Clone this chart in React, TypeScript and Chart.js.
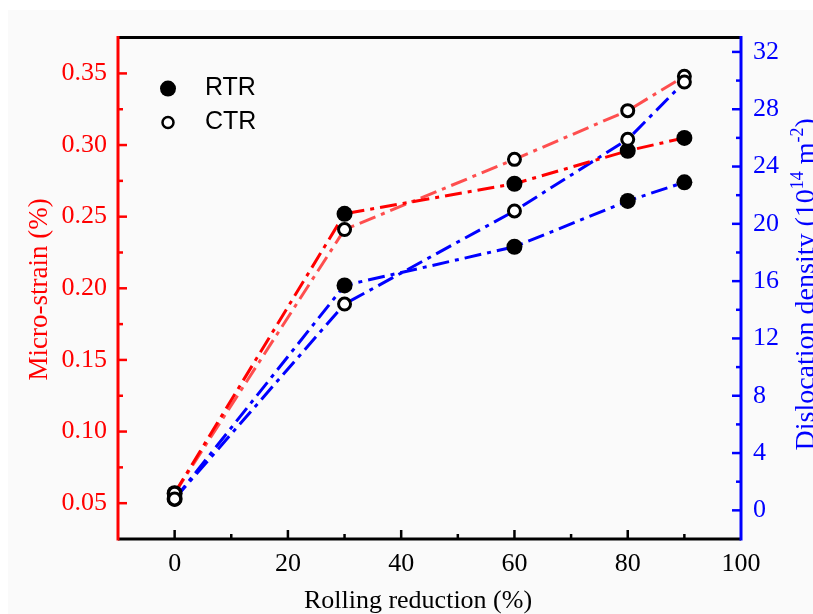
import React, { useEffect, useRef } from 'react';
import { Chart, registerables } from 'chart.js';

Chart.register(...registerables);

// ---- data ----
const reduction = [0, 30, 60, 80, 90];
const strainRTR = [0.057, 0.252, 0.273, 0.296, 0.305];
const strainCTR = [0.057, 0.241, 0.29, 0.324, 0.348];
const densityRTR = [0.8, 15.7, 18.4, 21.6, 22.9];
const densityCTR = [0.8, 14.4, 20.9, 25.9, 29.9];

const xTickLabels = [0, 20, 40, 60, 80, 100];
const strainTickLabels = [0.05, 0.1, 0.15, 0.2, 0.25, 0.3, 0.35];
const densityTickLabels = [0, 4, 8, 12, 16, 20, 24, 28, 32];

const legendLabels = ['RTR', 'CTR'];
const xTitle = 'Rolling reduction (%)';
const leftTitle = 'Micro-strain (%)';

const RED = '#ff0000';
const RED_LIGHT = 'rgba(255,40,40,0.82)';
const BLUE = '#0000ff';
const SERIF = '"Liberation Serif", "Times New Roman", serif';
const SANS = '"Liberation Sans", Arial, sans-serif';

const near = (arr: number[], v: number) => arr.some((a) => Math.abs(a - v) < 1e-7);
const pts = (ys: number[]) => reduction.map((x, i) => ({ x, y: ys[i] }));

const DASH = [17, 6, 4, 6];

const framePlugin = {
  id: 'frame',
  beforeDraw(chart: any) {
    const ctx = chart.ctx;
    ctx.save();
    ctx.fillStyle = '#fafafa';
    ctx.fillRect(0, 0, chart.width, chart.height);
    ctx.restore();
  },
  afterDraw(chart: any) {
    const { ctx, chartArea: a, scales } = chart;
    ctx.save();
    ctx.lineCap = 'butt';
    ctx.lineWidth = 2.5;
    // x ticks (inward)
    ctx.strokeStyle = '#000';
    for (const t of scales.x.ticks) {
      const v = t.value;
      if (Math.abs(v / 10 - Math.round(v / 10)) > 1e-7) continue;
      if (v <= scales.x.min || v >= scales.x.max) continue;
      const major = Math.round(v / 10) % 2 === 0;
      const len = major ? 9 : 5;
      const px = scales.x.getPixelForValue(v);
      ctx.beginPath();
      ctx.moveTo(px, a.bottom);
      ctx.lineTo(px, a.bottom - len);
      ctx.stroke();
    }
    // left ticks
    ctx.strokeStyle = RED;
    for (const t of scales.y.ticks) {
      const v = t.value;
      const k = Math.round(v / 0.025);
      if (Math.abs(v / 0.025 - k) > 1e-6) continue;
      if (v <= scales.y.min + 1e-9 || v >= scales.y.max - 1e-9) continue;
      const len = k % 2 === 0 ? 9 : 5;
      const py = scales.y.getPixelForValue(v);
      ctx.beginPath();
      ctx.moveTo(a.left, py);
      ctx.lineTo(a.left + len, py);
      ctx.stroke();
    }
    // right ticks
    ctx.strokeStyle = BLUE;
    for (const t of scales.y1.ticks) {
      const v = t.value;
      if (Math.abs(v / 2 - Math.round(v / 2)) > 1e-7) continue;
      if (v <= scales.y1.min || v >= scales.y1.max) continue;
      const len = Math.round(v / 2) % 2 === 0 ? 9 : 5;
      const py = scales.y1.getPixelForValue(v);
      ctx.beginPath();
      ctx.moveTo(a.right, py);
      ctx.lineTo(a.right - len, py);
      ctx.stroke();
    }
    // frame
    ctx.lineWidth = 3;
    ctx.strokeStyle = '#000';
    ctx.beginPath();
    ctx.moveTo(a.left, a.top);
    ctx.lineTo(a.right, a.top);
    ctx.moveTo(a.left, a.bottom);
    ctx.lineTo(a.right, a.bottom);
    ctx.stroke();
    ctx.strokeStyle = RED;
    ctx.beginPath();
    ctx.moveTo(a.left, a.top - 1.5);
    ctx.lineTo(a.left, a.bottom + 1.5);
    ctx.stroke();
    ctx.strokeStyle = BLUE;
    ctx.beginPath();
    ctx.moveTo(a.right, a.top - 1.5);
    ctx.lineTo(a.right, a.bottom + 1.5);
    ctx.stroke();

    // legend
    ctx.fillStyle = '#000';
    ctx.beginPath();
    ctx.arc(a.left + 50, a.top + 51, 8, 0, Math.PI * 2);
    ctx.fill();
    ctx.beginPath();
    ctx.arc(a.left + 50, a.top + 85, 5.5, 0, Math.PI * 2);
    ctx.fillStyle = '#fff';
    ctx.fill();
    ctx.lineWidth = 2.5;
    ctx.strokeStyle = '#000';
    ctx.stroke();
    ctx.fillStyle = '#000';
    ctx.font = `25px ${SANS}`;
    ctx.textAlign = 'left';
    ctx.textBaseline = 'middle';
    ctx.fillText(legendLabels[0], a.left + 87, a.top + 51);
    ctx.fillText(legendLabels[1], a.left + 87, a.top + 85);

    // left title
    ctx.save();
    ctx.translate(39, (a.top + a.bottom) / 2 + 1);
    ctx.rotate(-Math.PI / 2);
    ctx.fillStyle = RED;
    ctx.font = `27px ${SERIF}`;
    ctx.textAlign = 'center';
    ctx.textBaseline = 'alphabetic';
    ctx.fillText(leftTitle, 0, 0);
    ctx.restore();

    // bottom title
    ctx.fillStyle = '#000';
    ctx.font = `26px ${SERIF}`;
    ctx.textAlign = 'center';
    ctx.textBaseline = 'alphabetic';
    ctx.fillText(xTitle, 410, 598);

    // right title with superscripts
    ctx.save();
    ctx.translate(806, (a.top + a.bottom) / 2 - 4);
    ctx.rotate(-Math.PI / 2);
    ctx.fillStyle = BLUE;
    ctx.textAlign = 'left';
    ctx.textBaseline = 'alphabetic';
    const big = `28px ${SERIF}`;
    const small = `18px ${SERIF}`;
    const segs: [string, boolean][] = [
      ['Dislocation density (10', false],
      ['14', true],
      [' m', false],
      ['-2', true],
      [')', false],
    ];
    let total = 0;
    for (const [s, sup] of segs) {
      ctx.font = sup ? small : big;
      total += ctx.measureText(s).width;
    }
    let xx = -total / 2;
    for (const [s, sup] of segs) {
      ctx.font = sup ? small : big;
      ctx.fillText(s, xx, sup ? -11 : 0);
      xx += ctx.measureText(s).width;
    }
    ctx.restore();

    ctx.restore();
  },
};

export default function App() {
  const ref = useRef<HTMLCanvasElement | null>(null);
  useEffect(() => {
    if (!ref.current) return;
    const lineDs = (data: number[], color: string, axis: string) => ({
      data: pts(data),
      yAxisID: axis,
      borderColor: color,
      borderWidth: 3,
      borderDash: DASH,
      borderCapStyle: 'butt',
      pointRadius: 0,
      pointHoverRadius: 0,
      tension: 0,
      fill: false,
      order: 10,
    });
    const pointDs = (data: number[], axis: string, filled: boolean, order: number) => ({
      data: pts(data),
      yAxisID: axis,
      showLine: false,
      pointRadius: filled ? 8 : 6,
      pointHoverRadius: filled ? 8 : 6,
      pointBackgroundColor: filled ? '#000' : '#fff',
      pointBorderColor: '#000',
      pointBorderWidth: filled ? 0 : 3,
      order,
      clip: false,
    });
    const chart = new Chart(ref.current, {
      type: 'line',
      data: {
        datasets: [
          lineDs(strainRTR, RED, 'y'),
          lineDs(strainCTR, RED_LIGHT, 'y'),
          lineDs(densityRTR, BLUE, 'y1'),
          lineDs(densityCTR, BLUE, 'y1'),
          pointDs(strainRTR, 'y', true, 4),
          pointDs(densityRTR, 'y1', true, 3),
          pointDs(strainCTR, 'y', false, 2),
          pointDs(densityCTR, 'y1', false, 1),
        ] as any,
      },
      options: {
        responsive: false,
        animation: false,
        devicePixelRatio: 1,
        layout: { padding: { top: 24, left: 0, right: 0, bottom: 0 } },
        plugins: {
          legend: { display: false },
          tooltip: { enabled: false },
        },
        events: [],
        scales: {
          x: {
            type: 'linear',
            position: 'bottom',
            min: -10,
            max: 100,
            grid: { display: false, drawTicks: false },
            border: { display: false },
            afterFit: (s: any) => {
              s.height = 75;
            },
            ticks: {
              stepSize: 10,
              includeBounds: false,
              autoSkip: false,
              maxRotation: 0,
              minRotation: 0,
              padding: 10,
              color: '#000',
              font: { family: SERIF, size: 26 },
              callback: (v: any) => (near(xTickLabels, Number(v)) ? String(v) : ''),
            },
          },
          y: {
            type: 'linear',
            position: 'left',
            min: 0.025,
            max: 0.375,
            grid: { display: false, drawTicks: false },
            border: { display: false },
            afterFit: (s: any) => {
              s.width = 110;
            },
            ticks: {
              stepSize: 0.025,
              includeBounds: false,
              autoSkip: false,
              padding: 11,
              color: RED,
              font: { family: SERIF, size: 26 },
              callback: (v: any) => (near(strainTickLabels, Number(v)) ? Number(v).toFixed(2) : ''),
            },
          },
          y1: {
            type: 'linear',
            position: 'right',
            min: -2,
            max: 33,
            grid: { display: false, drawTicks: false },
            border: { display: false },
            afterFit: (s: any) => {
              s.width = 72;
            },
            ticks: {
              stepSize: 2,
              includeBounds: false,
              autoSkip: false,
              padding: 12,
              color: BLUE,
              font: { family: SERIF, size: 26 },
              callback: (v: any) => (near(densityTickLabels, Number(v)) ? String(v) : ''),
            },
          },
        },
      } as any,
      plugins: [framePlugin as any],
    });
    return () => chart.destroy();
  }, []);
  return (
    <div style={{ position: 'fixed', left: 8, top: 10, width: 805, height: 604, overflow: 'hidden' }}>
      <canvas ref={ref} width={805} height={604} style={{ display: 'block' }} />
    </div>
  );
}
